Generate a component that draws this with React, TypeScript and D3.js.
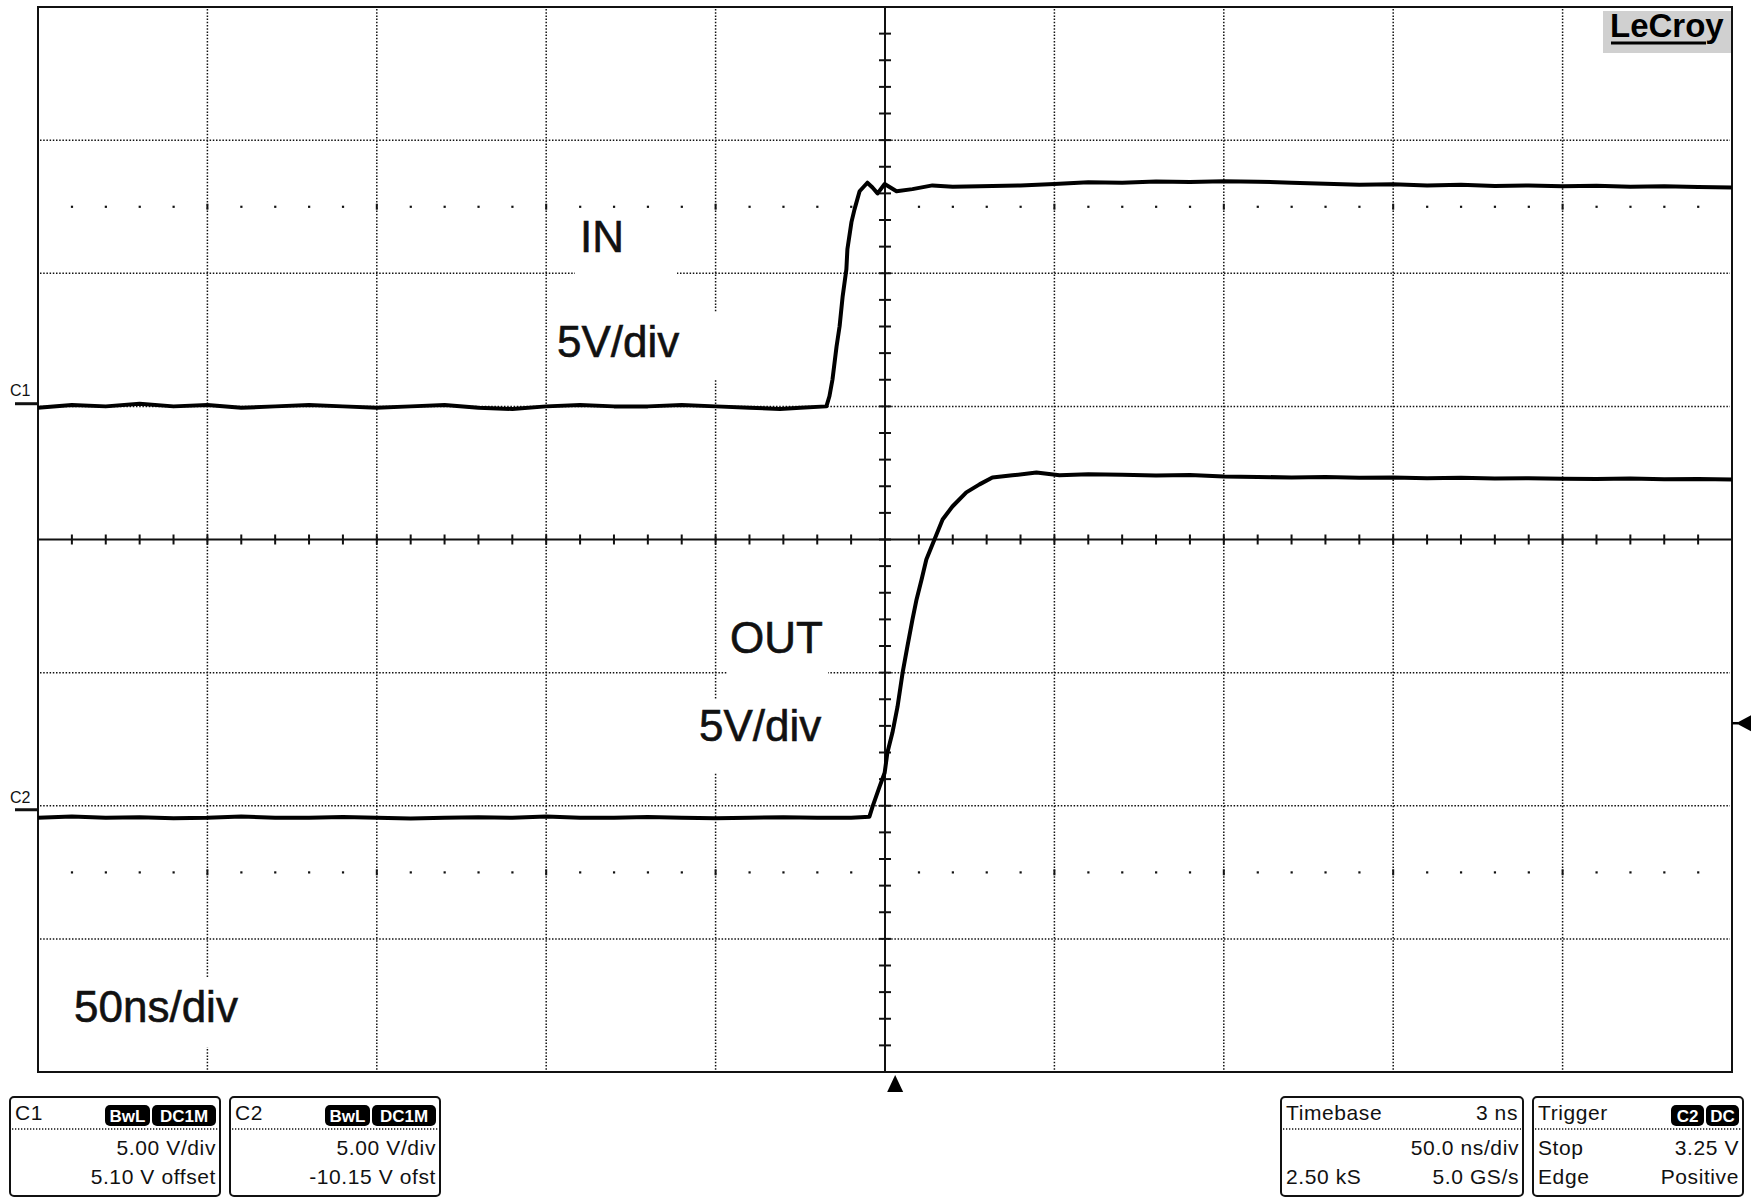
import React from 'react';
import * as d3 from 'd3';

const W = 1755;
const H = 1200;
const FONT = '"Liberation Sans", Arial, Helvetica, sans-serif';

// scope settings
const TIME_SPAN = [-250, 250]; // ns, 50 ns/div
const DIVS_X = 10;
const DIVS_Y = 8;
const C1_VDIV = 5.0;
const C1_OFFSET = 5.1;
const C2_VDIV = 5.0;
const C2_OFFSET = -10.15;
const TRIG_LEVEL = 3.25; // V on C2
const TRIG_DELAY = 3; // ns

// C1 (IN) trace, time in ns, volts
const IN_T = [
  -250, -240, -230, -220, -210, -200, -190, -180, -170, -160, -150, -140, -130, -120, -110, -100,
  -90, -80, -70, -60, -50, -40, -31, -25, -17.3, -16.4, -15.5, -14.3, -13.4, -12.5, -11.4, -11.1,
  -9.9, -9.0, -7.5, -5.2, -3.7, -2.2, -0.1, 3.4, 8.1, 14, 20, 28, 40, 50, 60, 70, 80, 90, 100,
  110, 120, 130, 140, 150, 160, 170, 180, 190, 200, 210, 220, 230, 240, 250,
];
const IN_V = [
  -0.15, -0.05, -0.1, 0.0, -0.1, -0.05, -0.15, -0.1, -0.05, -0.1, -0.15, -0.1, -0.05, -0.15, -0.2, -0.1,
  -0.05, -0.1, -0.1, -0.05, -0.1, -0.15, -0.2, -0.15, -0.1, 0.28, 0.91, 2.15, 2.91, 4.03, 5.05, 5.8,
  6.82, 7.3, 7.98, 8.3, 8.12, 7.9, 8.25, 7.98, 8.06, 8.2, 8.15, 8.17, 8.2, 8.25, 8.32, 8.3, 8.35, 8.33, 8.36,
  8.34, 8.3, 8.26, 8.22, 8.24, 8.2, 8.22, 8.18, 8.2, 8.17, 8.19, 8.15, 8.17, 8.14, 8.12,
];

// C2 (OUT) trace
const OUT_T = [
  -250, -240, -230, -220, -210, -200, -190, -180, -170, -160, -150, -140, -130, -120, -110, -100,
  -90, -80, -70, -60, -50, -40, -30, -20, -10, -4.6, -3.7, -1.6, -0.1, 0.7, 2.2, 3.7, 5.2, 6.6,
  8.1, 9.3, 10.8, 12.2, 14.6, 17.0, 19.9, 24.0, 27.9, 31.7, 37.6, 44.7, 51.5, 60, 70, 80, 90, 100,
  110, 120, 130, 140, 150, 160, 170, 180, 190, 200, 210, 220, 230, 240, 250,
];
const OUT_V = [
  -0.3, -0.25, -0.3, -0.28, -0.32, -0.3, -0.25, -0.3, -0.3, -0.27, -0.3, -0.33, -0.3, -0.28, -0.3, -0.25,
  -0.3, -0.3, -0.27, -0.3, -0.32, -0.3, -0.28, -0.3, -0.3, -0.26, 0.11, 0.87, 1.39, 2.14, 2.9, 3.87, 5.15, 6.13,
  7.14, 7.89, 8.65, 9.4, 10.15, 10.9, 11.39, 11.92, 12.22, 12.48, 12.56, 12.67, 12.56, 12.6, 12.58, 12.55, 12.57, 12.52,
  12.5, 12.48, 12.5, 12.47, 12.48, 12.45, 12.47, 12.44, 12.45, 12.43, 12.42, 12.44, 12.41, 12.42, 12.4,
];

// annotation labels
const LABELS = [
  { text: 'IN', x: 580, y: 252, box: [575, 213, 102, 80] },
  { text: '5V/div', x: 557, y: 357, box: [550, 312, 170, 68] },
  { text: 'OUT', x: 730, y: 653, box: [727, 612, 101, 80] },
  { text: '5V/div', x: 699, y: 741, box: [693, 700, 137, 72] },
  { text: '50ns/div', x: 74, y: 1022, box: [45, 978, 215, 69] },
];

// readout boxes
const INFO_TITLES = ['C1', 'C2', 'Timebase', 'Trigger'];
const INFO_HEAD_RIGHT = ['', '', '3 ns', ''];
const INFO_CHIPS = [['BwL', 'DC1M'], ['BwL', 'DC1M'], [], ['C2', 'DC']];
const INFO_ROW1 = [['', '5.00 V/div'], ['', '5.00 V/div'], ['', '50.0 ns/div'], ['Stop', '3.25 V']];
const INFO_ROW2 = [['', '5.10 V offset'], ['', '-10.15 V ofst'], ['2.50 kS', '5.0 GS/s'], ['Edge', 'Positive']];
const INFO_X = [[10, 220], [230, 440], [1281, 1523], [1533, 1743]];

const PLOT = { left: 38, right: 1732, top: 7, bottom: 1072 };

export default function App() {
  const x = d3.scaleLinear().domain(TIME_SPAN).range([PLOT.left, PLOT.right]);
  const yDiv = d3.scaleLinear().domain([-DIVS_Y / 2, DIVS_Y / 2]).range([PLOT.bottom, PLOT.top]);
  const y1 = (v: number) => yDiv((v + C1_OFFSET) / C1_VDIV);
  const y2 = (v: number) => yDiv((v + C2_OFFSET) / C2_VDIV);
  const divW = (PLOT.right - PLOT.left) / DIVS_X;
  const divH = (PLOT.bottom - PLOT.top) / DIVS_Y;
  const cx = x(0);
  const cy = yDiv(0);

  const trace = (ts: number[], vs: number[], yf: (v: number) => number) =>
    d3
      .line<number>()
      .x((t) => x(t))
      .y((_, i) => yf(vs[i]))(ts) ?? '';

  const dot = { stroke: '#111', strokeWidth: 1.5, strokeDasharray: '1.5 1.7' };

  const gridV = d3.range(1, DIVS_X).filter((i) => i !== DIVS_X / 2);
  const gridH = d3.range(1, DIVS_Y).filter((j) => j !== DIVS_Y / 2);
  const minorX = d3.range(1, DIVS_X * 5);
  const minorY = d3.range(1, DIVS_Y * 5);
  const dotRows = [yDiv(2.5), yDiv(-2.5)];

  const trigX = x(TRIG_DELAY);
  const trigY = y2(TRIG_LEVEL);

  return (
    <svg
      width={W}
      height={H}
      style={{ position: 'absolute', left: 0, top: 0, background: '#fff', fontFamily: FONT }}
    >
      <rect width={W} height={H} fill="#fff" />

      {/* dotted grid */}
      {gridV.map((i) => (
        <line key={'gv' + i} x1={PLOT.left + i * divW} x2={PLOT.left + i * divW} y1={PLOT.top + 2} y2={PLOT.bottom - 2} {...dot} />
      ))}
      {gridH.map((j) => (
        <line key={'gh' + j} x1={PLOT.left + 2} x2={PLOT.right - 2} y1={PLOT.top + j * divH} y2={PLOT.top + j * divH} {...dot} />
      ))}

      {/* dot rows at +/-2.5 div */}
      {dotRows.map((ry, r) =>
        minorX.map((k) =>
          k % 5 === 0 ? (
            k === 25 ? null : (
              <line key={`dr${r}-${k}`} x1={PLOT.left + k * divW / 5} x2={PLOT.left + k * divW / 5} y1={ry - 3} y2={ry + 3} stroke="#111" strokeWidth={2} />
            )
          ) : (
            <rect key={`dr${r}-${k}`} x={PLOT.left + (k * divW) / 5 - 1} y={ry - 1} width={2.2} height={2.2} fill="#111" />
          ),
        ),
      )}

      {/* label backgrounds and labels */}
      {LABELS.map((l, i) => (
        <g key={'lb' + i}>
          <rect x={l.box[0]} y={l.box[1]} width={l.box[2]} height={l.box[3]} fill="#fff" />
          <text x={l.x} y={l.y} fontSize={44} fill="#111" stroke="#111" strokeWidth={0.6}>
            {l.text}
          </text>
        </g>
      ))}

      {/* center axes with minor ticks */}
      <line x1={PLOT.left} x2={PLOT.right} y1={cy} y2={cy} stroke="#111" strokeWidth={2} />
      <line x1={cx} x2={cx} y1={PLOT.top} y2={PLOT.bottom} stroke="#111" strokeWidth={2} />
      {minorX.map((k) => (
        <line key={'mx' + k} x1={PLOT.left + (k * divW) / 5} x2={PLOT.left + (k * divW) / 5} y1={cy - 5} y2={cy + 5} stroke="#111" strokeWidth={2} />
      ))}
      {minorY.map((k) => (
        <line key={'my' + k} x1={cx - 6} x2={cx + 6} y1={PLOT.top + (k * divH) / 5} y2={PLOT.top + (k * divH) / 5} stroke="#111" strokeWidth={2} />
      ))}

      {/* frame */}
      <rect x={PLOT.left} y={PLOT.top} width={PLOT.right - PLOT.left} height={PLOT.bottom - PLOT.top} fill="none" stroke="#111" strokeWidth={2} />

      {/* traces */}
      <path d={trace(IN_T, IN_V, y1)} fill="none" stroke="#000" strokeWidth={4} strokeLinejoin="round" />
      <path d={trace(OUT_T, OUT_V, y2)} fill="none" stroke="#000" strokeWidth={4} strokeLinejoin="round" />

      {/* channel ground markers */}
      <text x={10} y={396} fontSize={16} fill="#111">C1</text>
      <line x1={15} x2={PLOT.left} y1={y1(0)} y2={y1(0)} stroke="#111" strokeWidth={3} />
      <text x={10} y={803} fontSize={16} fill="#111">C2</text>
      <line x1={15} x2={PLOT.left} y1={y2(0)} y2={y2(0)} stroke="#111" strokeWidth={3} />

      {/* trigger markers */}
      <path d={`M${trigX},${PLOT.bottom + 3} L${trigX - 8},${PLOT.bottom + 20} L${trigX + 8},${PLOT.bottom + 20} Z`} fill="#000" />
      <line x1={PLOT.right} x2={PLOT.right + 6} y1={trigY} y2={trigY} stroke="#000" strokeWidth={2.5} />
      <path d={`M${PLOT.right + 4},${trigY} L${PLOT.right + 19},${trigY - 8} L${PLOT.right + 19},${trigY + 8} Z`} fill="#000" />

      {/* LeCroy logo */}
      <rect x={1603} y={11} width={128} height={42} fill="#d0d0d0" />
      <text x={1610} y={37} fontSize={33} fontWeight="bold" fill="#000">LeCroy</text>
      <line x1={1611} x2={1706} y1={43} y2={43} stroke="#000" strokeWidth={3} />

      {/* readout boxes */}
      {INFO_TITLES.map((title, i) => {
        const [bx0, bx1] = INFO_X[i];
        let chipRight = bx1 - 4;
        const chips = [...INFO_CHIPS[i]].reverse().map((c) => {
          const w = c.length <= 2 ? 33 : c.length === 3 ? 45 : 64;
          const left = chipRight - w;
          chipRight = left - 2;
          return (
            <g key={c + left}>
              <rect x={left} y={1105} width={w} height={21} rx={5} fill="#000" />
              <text x={left + w / 2} y={1122} fontSize={17} fontWeight="bold" fill="#fff" textAnchor="middle">
                {c}
              </text>
            </g>
          );
        });
        const txt = { fontSize: 21, fill: '#111', letterSpacing: 0.6 } as const;
        return (
          <g key={'ib' + i}>
            <rect x={bx0} y={1097} width={bx1 - bx0} height={99} rx={4} fill="#fff" stroke="#111" strokeWidth={2} />
            <line x1={bx0 + 2} x2={bx1 - 2} y1={1129} y2={1129} stroke="#111" strokeWidth={1.3} strokeDasharray="1.3 1.7" />
            <text x={bx0 + 5} y={1120} {...txt}>{title}</text>
            {INFO_HEAD_RIGHT[i] && (
              <text x={bx1 - 5} y={1120} textAnchor="end" {...txt}>{INFO_HEAD_RIGHT[i]}</text>
            )}
            {chips}
            <text x={bx0 + 5} y={1155} {...txt}>{INFO_ROW1[i][0]}</text>
            <text x={bx1 - 4} y={1155} textAnchor="end" {...txt}>{INFO_ROW1[i][1]}</text>
            <text x={bx0 + 5} y={1184} {...txt}>{INFO_ROW2[i][0]}</text>
            <text x={bx1 - 4} y={1184} textAnchor="end" {...txt}>{INFO_ROW2[i][1]}</text>
          </g>
        );
      })}
    </svg>
  );
}
